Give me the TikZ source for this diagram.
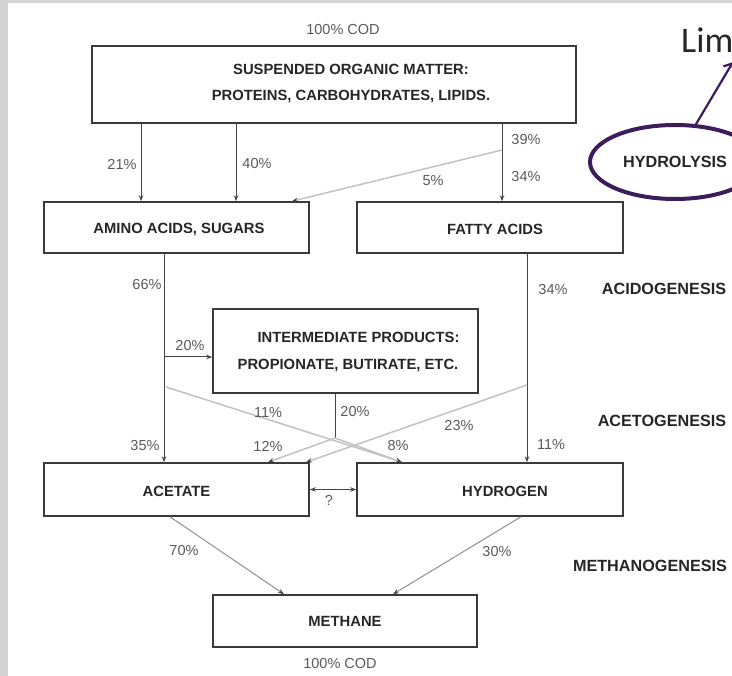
\documentclass[tikz,border=0pt]{standalone}
\usepackage{fontspec}
\setmainfont{Liberation Sans}
\newfontfamily\limfont{Carlito}
\usetikzlibrary{arrows.meta,shapes.geometric}
\definecolor{boxc}{HTML}{3A3A3A}
\definecolor{txtc}{HTML}{262626}
\definecolor{pctc}{HTML}{5A5A5A}
\definecolor{linec}{HTML}{454545}
\definecolor{grayc}{HTML}{C2C2C2}
\definecolor{midgray}{HTML}{909090}
\definecolor{purp}{HTML}{3D1C5C}
\definecolor{strip}{HTML}{D3D3D3}
\begin{document}
\begin{tikzpicture}[x=1pt,y=-1pt,
  >={Stealth[length=6pt,width=4.5pt,color=linec]},
  box/.style={draw=boxc,line width=1.6pt,inner sep=0pt,rectangle},
  btext/.style={font=\fontsize{14.8}{16}\selectfont\bfseries,text=txtc,inner sep=0pt,align=center},
  pct/.style={font=\fontsize{14.5}{16}\selectfont,text=pctc,inner sep=0pt},
  stage/.style={font=\fontsize{16.2}{18}\selectfont\bfseries,text=txtc,inner sep=0pt},
  blk/.style={draw=linec,line width=1pt,->},
  plainln/.style={draw=linec,line width=1pt},
  gry/.style={draw=grayc,line width=1.5pt,->},
  gry2/.style={draw=midgray,line width=1pt,->}]
\fill[strip] (0,0) rectangle (8,676);
\fill[strip] (0,0) rectangle (732,3);
\useasboundingbox (0,0) rectangle (732,676);

% boxes
\node[box,minimum width=484pt,minimum height=77pt] (top) at (334,84.5) {};
\node[box,minimum width=265pt,minimum height=51pt] (amino) at (176.5,227.5) {};
\node[box,minimum width=266pt,minimum height=51pt] (fatty) at (490,227.5) {};
\node[box,minimum width=265pt,minimum height=84pt] (inter) at (345.5,351) {};
\node[box,minimum width=265pt,minimum height=53pt] (acetate) at (176.5,489.5) {};
\node[box,minimum width=266pt,minimum height=53pt] (hydrogen) at (490,489.5) {};
\node[box,minimum width=264pt,minimum height=52pt] (methane) at (345,621) {};

% box texts
\node[btext] (toptxt) at (351,83) {SUSPENDED ORGANIC MATTER:\\[10pt]PROTEINS, CARBOHYDRATES, LIPIDS.};
\node[btext] (aminotxt) at (179,229) {AMINO ACIDS, SUGARS};
\node[btext] (fattytxt) at (495,229) {FATTY ACIDS};
\node[btext] (inter1) at (358.5,337) {INTERMEDIATE PRODUCTS:};
\node[btext] (inter2) at (348,365) {PROPIONATE, BUTIRATE, ETC.};
\node[btext] (acettxt) at (176.5,491) {ACETATE};
\node[btext] (hydtxt) at (505,491) {HYDROGEN};
\node[btext] (methtxt) at (345,621) {METHANE};

% stage labels
\node[stage,ellipse,draw=purp,line width=4pt,minimum width=170pt,minimum height=74pt] (hyd) at (675,162) {HYDROLYSIS};
\node[stage] (sacid) at (664,289) {ACIDOGENESIS};
\node[stage] (saceto) at (662,421) {ACETOGENESIS};
\node[stage] (smeth) at (650,566) {METHANOGENESIS};

% Lim annotation
\node[anchor=base west,font=\limfont\fontsize{36}{40}\selectfont,text=txtc,inner sep=0pt] (lim) at (681,53) {Lim};
\coordinate (limtip) at (733,62);
\draw[draw=purp,line width=2.2pt,-{Straight Barb[length=7pt,width=12pt]}] (hyd.61) -- (limtip);

% junction coordinates
\coordinate (j5) at (502,150);
\coordinate (j20) at (164,357);
\coordinate (j11) at (166,387);
\coordinate (jint) at (335,438);
\coordinate (j23) at (527,385);

% connectors
\draw[blk] ([xshift=-193pt]top.south) -- ([xshift=-35.5pt]amino.north);
\draw[blk] ([xshift=-98pt]top.south) -- ([xshift=59.5pt]amino.north);
\draw[blk] ([xshift=168pt]top.south) -- ([xshift=12pt]fatty.north);
\draw[gry] (j5) -- ([xshift=115.5pt]amino.north);
\draw[blk] ([xshift=-12.5pt]amino.south) -- ([xshift=-12.5pt]acetate.north);
\draw[blk] (j20) -- ([yshift=-6pt]inter.west);
\draw[gry] (j11) -- ([xshift=-88pt]hydrogen.north);
\draw[plainln] ([xshift=-10.5pt]inter.south) -- (jint);
\draw[gry] (jint) -- ([xshift=91.5pt]acetate.north);
\draw[gry] (jint) -- ([xshift=-88pt]hydrogen.north);
\draw[blk] ([xshift=37pt]fatty.south) -- ([xshift=37pt]hydrogen.north);
\draw[gry] (j23) -- ([xshift=129.5pt]acetate.north);
\draw[plainln,<->] (acetate.east) -- (hydrogen.west);
\draw[gry2] ([xshift=-6.5pt]acetate.south) -- ([xshift=-61pt]methane.north);
\draw[gry2] ([xshift=31pt]hydrogen.south) -- ([xshift=48pt]methane.north);

% percentages
\node[pct] (pcod1) at (343,30) {100\% COD};
\node[pct] (p21) at (122,164) {21\%};
\node[pct] (p40) at (257,164) {40\%};
\node[pct] (p39) at (526,140) {39\%};
\node[pct] (p34a) at (526,177) {34\%};
\node[pct] (p5) at (433,181) {5\%};
\node[pct] (p66) at (147,285) {66\%};
\node[pct] (p20a) at (190,346) {20\%};
\node[pct] (p11a) at (268,413) {11\%};
\node[pct] (p35) at (145,446) {35\%};
\node[pct] (p12) at (268,446) {12\%};
\node[pct] (p20b) at (355,412) {20\%};
\node[pct] (p8) at (398,446) {8\%};
\node[pct] (p23) at (459,426) {23\%};
\node[pct] (p34b) at (553,290) {34\%};
\node[pct] (p11b) at (551,445) {11\%};
\node[pct] (p70) at (184,551) {70\%};
\node[pct] (p30) at (497,552) {30\%};
\node[pct] (pq) at (329,500) {?};
\node[pct] (pcod2) at (340,664) {100\% COD};
\end{tikzpicture}
\end{document}
